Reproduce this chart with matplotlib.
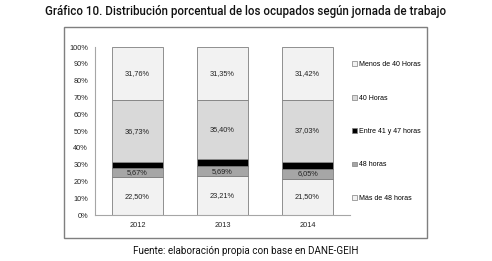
import matplotlib
matplotlib.use("Agg")
import matplotlib.pyplot as plt
from matplotlib.patches import Rectangle, Patch

years = ["2012", "2013", "2014"]
categories = ["Más de 48 horas", "48 horas", "Entre 41 y 47 horas", "40 Horas", "Menos de 40 Horas"]
mas_48 = [22.50, 23.21, 21.50]
h48 = [5.67, 5.69, 6.05]
entre_41_47 = [3.34, 4.35, 4.00]
h40 = [36.73, 35.40, 37.03]
menos_40 = [31.76, 31.35, 31.42]
series = [mas_48, h48, entre_41_47, h40, menos_40]
colors = ["#f2f2f2", "#a6a6a6", "#000000", "#d9d9d9", "#f2f2f2"]
show_label = [True, True, False, True, True]

plt.rcParams["font.family"] = ["Liberation Sans", "DejaVu Sans"]

fig = plt.figure(figsize=(4.92, 2.61), dpi=100)
fig.patch.set_facecolor("white")

# outer frame
fig.patches.append(Rectangle((64 / 492, 1 - 238 / 261), 363 / 492, 211 / 261,
                             transform=fig.transFigure, fill=False,
                             edgecolor="#7f7f7f", linewidth=1.0))

ax = fig.add_axes([95 / 492, 1 - 215 / 261, 255 / 492, 168 / 261])
x = range(len(years))
bottom = [0, 0, 0]
for vals, col, lab, show in zip(series, colors, categories, show_label):
    ax.bar(x, vals, bottom=bottom, width=0.59, color=col, edgecolor="#7f7f7f",
           linewidth=0.6, label=lab)
    if show:
        for i, v in enumerate(vals):
            ax.text(i, bottom[i] + v / 2, f"{v:.2f}%".replace(".", ","),
                    ha="center", va="center", fontsize=5.3, color="#222222")
    bottom = [b + v for b, v in zip(bottom, vals)]

ax.set_xlim(-0.5, 2.5)
ax.set_ylim(0, 100)
ax.set_yticks(range(0, 101, 10))
ax.set_yticklabels([f"{t}%" for t in range(0, 101, 10)])
ax.set_xticks(list(x))
ax.set_xticklabels(years)
ax.tick_params(axis="both", length=0, labelsize=5.3, colors="#222222")
ax.tick_params(axis="y", pad=5)
ax.tick_params(axis="x", pad=5)
for s in ["top", "right"]:
    ax.spines[s].set_visible(False)
for s in ["left", "bottom"]:
    ax.spines[s].set_color("#a6a6a6")
    ax.spines[s].set_linewidth(0.8)

handles = [Patch(facecolor=c, edgecolor="#7f7f7f", linewidth=0.5) for c in colors]
leg = fig.legend(handles[::-1], categories[::-1], loc="upper left",
                 bbox_to_anchor=(346 / 492, 1 - 55 / 261), frameon=False,
                 fontsize=5.0, labelspacing=3.8, handlelength=0.7,
                 handleheight=0.7, handletextpad=0.25)

fig.text(0.5, 1 - 11 / 261, "Gráfico 10. Distribución porcentual de los ocupados según jornada de trabajo",
         ha="center", va="center", fontsize=8.3, family=["Roboto", "DejaVu Sans"],
         weight="medium", color="#111111")
fig.text(0.5, 1 - 251 / 261, "Fuente: elaboración propia con base en DANE-GEIH",
         ha="center", va="center", fontsize=7.1, family=["Roboto", "DejaVu Sans"],
         color="#111111")

fig.savefig("out.png", dpi=100)
